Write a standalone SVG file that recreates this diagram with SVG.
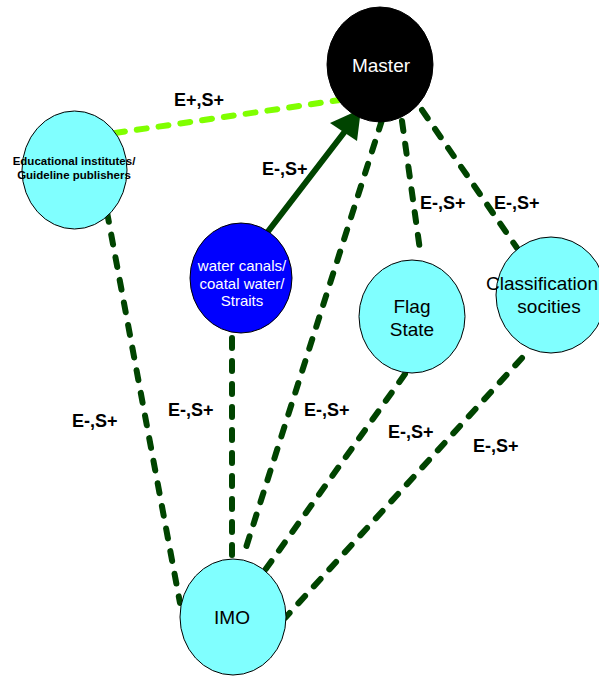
<svg xmlns="http://www.w3.org/2000/svg" width="599" height="677" viewBox="0 0 599 677">
<style>
.node{stroke:#000;stroke-width:1}
.cyan{fill:#80ffff}
.t{font-family:"Liberation Sans",Arial,sans-serif;text-anchor:middle}
.lbl{font-family:"Liberation Sans",Arial,sans-serif;font-weight:bold;font-size:18px;fill:#000}
.dash{fill:none;stroke:#004400;stroke-width:6;stroke-linecap:round;stroke-dasharray:10 13}
.dashlight{fill:none;stroke:#80ff00;stroke-width:6;stroke-linecap:round;stroke-dasharray:10 12}
</style>
<rect width="599" height="677" fill="#fff"/>
<g id="connectors">
<line class="dashlight" x1="115" y1="133" x2="340" y2="100"/>
<line x1="263" y1="238" x2="346" y2="130" stroke="#004400" stroke-width="6" stroke-linecap="round"/>
<polygon points="361,109 330,123 357,141" fill="#004400"/>
<line class="dash" x1="402" y1="121" x2="420" y2="250"/>
<line class="dash" x1="422" y1="110" x2="517" y2="248"/>
<line class="dash" x1="382" y1="120" x2="243" y2="557"/>
<line class="dash" x1="107" y1="212" x2="180" y2="603"/>
<line class="dash" x1="232" y1="338" x2="232" y2="560"/>
<line class="dash" x1="405" y1="374" x2="263" y2="573"/>
<line class="dash" x1="522" y1="358" x2="285" y2="618"/>
</g>
<g id="labels">
<text class="lbl" x="174" y="106">E+,S+</text>
<text class="lbl" x="262" y="175">E-,S+</text>
<text class="lbl" x="420" y="209">E-,S+</text>
<text class="lbl" x="494" y="209">E-,S+</text>
<text class="lbl" x="72" y="427">E-,S+</text>
<text class="lbl" x="168" y="416">E-,S+</text>
<text class="lbl" x="304" y="416">E-,S+</text>
<text class="lbl" x="388" y="438">E-,S+</text>
<text class="lbl" x="473" y="452">E-,S+</text>
</g>
<g id="master">
<ellipse class="node" cx="380" cy="64.5" rx="53" ry="57.5" fill="#000"/>
<text class="t" x="381" y="72" font-size="19" fill="#fff">Master</text>
</g>
<g id="educational">
<ellipse class="node cyan" cx="74.5" cy="170" rx="52.5" ry="59"/>
<text class="t" x="74" y="165" font-size="11.5" font-weight="bold" fill="#000">Educational institutes/</text>
<text class="t" x="74" y="179" font-size="11.5" font-weight="bold" fill="#000">Guideline publishers</text>
</g>
<g id="water">
<ellipse class="node" cx="241" cy="278" rx="51" ry="55" fill="#0000ff"/>
<text class="t" x="242" y="271" font-size="15" fill="#fff">water canals/</text>
<text class="t" x="242" y="288.5" font-size="15" fill="#fff">coatal water/</text>
<text class="t" x="242" y="306" font-size="15" fill="#fff">Straits</text>
</g>
<g id="flag">
<ellipse class="node cyan" cx="412" cy="316.5" rx="53" ry="56.5"/>
<text class="t" x="412" y="313" font-size="19" fill="#000">Flag</text>
<text class="t" x="412" y="336" font-size="19" fill="#000">State</text>
</g>
<g id="classification">
<ellipse class="node cyan" cx="551" cy="295" rx="55" ry="58"/>
<text class="t" x="542" y="290" font-size="19" fill="#000">Classification</text>
<text class="t" x="549" y="313" font-size="19" fill="#000">socities</text>
</g>
<g id="imo">
<ellipse class="node cyan" cx="233" cy="617" rx="53" ry="58"/>
<text class="t" x="232" y="624" font-size="19" fill="#000">IMO</text>
</g>
</svg>
